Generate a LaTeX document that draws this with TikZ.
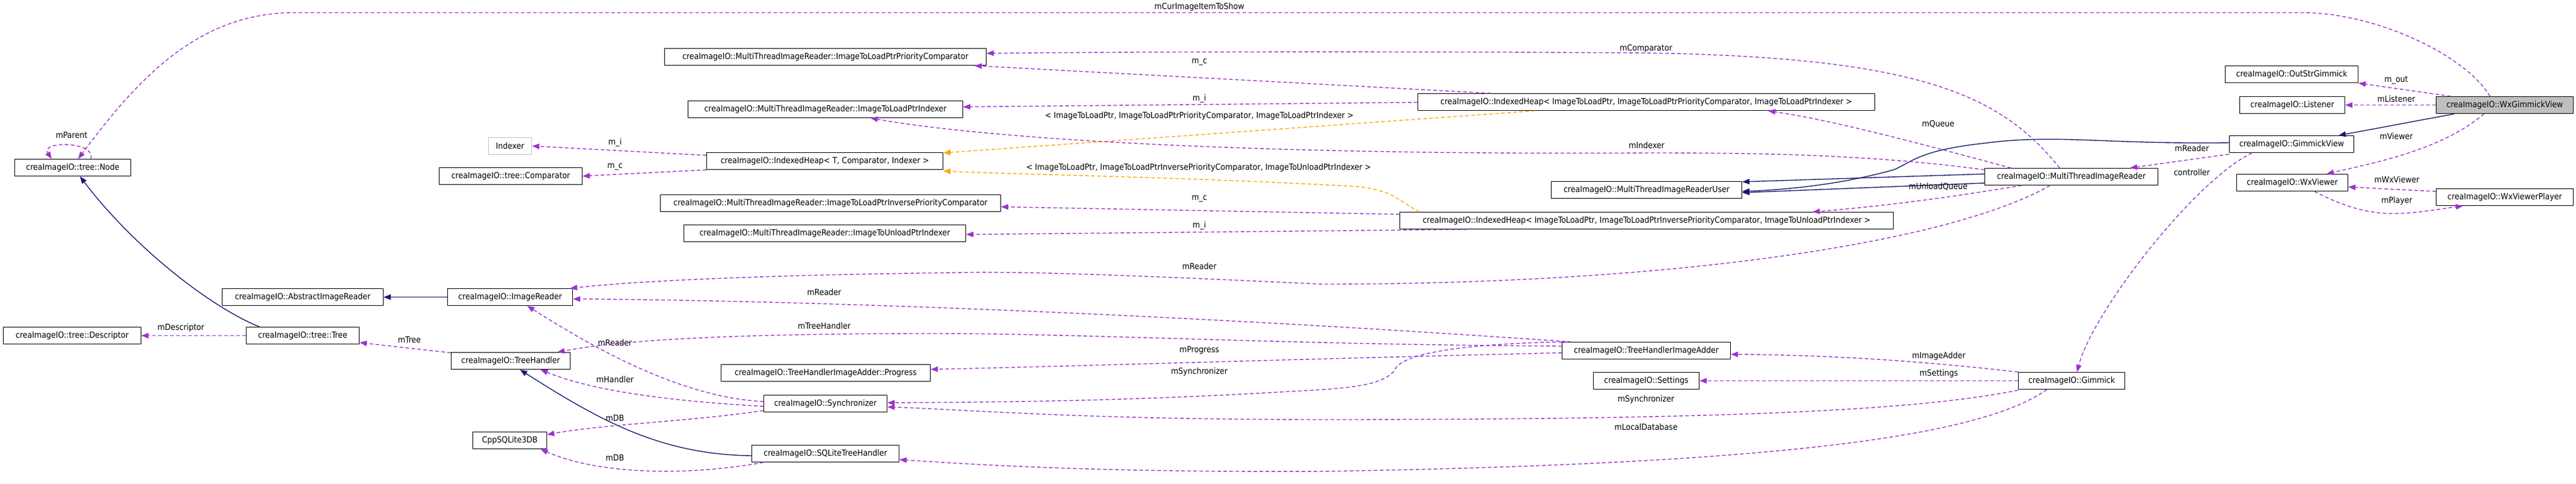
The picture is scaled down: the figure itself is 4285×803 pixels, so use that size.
\documentclass[tikz,border=0pt]{standalone}
\usepackage{fontspec}
\setmainfont{DejaVu Sans Condensed}
\usetikzlibrary{arrows.meta}

\definecolor{usecol}{HTML}{9A32CD}
\definecolor{inhcol}{HTML}{191970}
\definecolor{tplcol}{HTML}{FFA500}
\definecolor{boxgray}{HTML}{BFBFBF}

\tikzset{
  cls/.style={draw, line width=1.1pt, anchor=north west, minimum height=28pt, inner sep=0pt, font=\fontsize{14}{16}\selectfont},
  clsgray/.style={cls, draw=boxgray},
  clshere/.style={cls, fill=boxgray},
  uses/.style={draw=usecol, line width=1.4pt, dash pattern=on 6pt off 4pt, -{Triangle[length=12pt,width=9pt]}},
  tpl/.style={uses, draw=tplcol},
  inh/.style={draw=inhcol, line width=1.4pt, -{Triangle[length=12pt,width=9pt]}},
  lbl/.style={inner sep=0pt, font=\fontsize{14}{16}\selectfont}
}

\begin{document}
\begin{tikzpicture}[x=1pt, y=-1pt, line join=round]
  \useasboundingbox (0,0) rectangle (4285,803);

  % ===== Classes =====
  \node[cls, minimum width=193pt] (node) at (24,264) {creaImageIO::tree::Node};
  \node[clsgray, minimum width=72pt] (indexer) at (812,228) {Indexer};
  \node[cls, minimum width=238pt] (tcmp) at (730,278) {creaImageIO::tree::Comparator};
  \node[cls, minimum width=268pt] (absrd) at (369,479) {creaImageIO::AbstractImageReader};
  \node[cls, minimum width=208pt] (imgrd) at (744,479) {creaImageIO::ImageReader};
  \node[cls, minimum width=229pt] (desc) at (5,543) {creaImageIO::tree::Descriptor};
  \node[cls, minimum width=188pt] (tree) at (409,543) {creaImageIO::tree::Tree};
  \node[cls, minimum width=198pt] (thdl) at (750,585) {creaImageIO::TreeHandler};
  \node[cls, minimum width=123pt] (sqldb) at (786,717) {CppSQLite3DB};
  \node[cls, minimum width=535pt] (pcmp) at (1105,80) {creaImageIO::MultiThreadImageReader::ImageToLoadPtrPriorityComparator};
  \node[cls, minimum width=457pt] (ldidx) at (1144,167) {creaImageIO::MultiThreadImageReader::ImageToLoadPtrIndexer};
  \node[cls, minimum width=393pt] (iheap) at (1175,253) {creaImageIO::IndexedHeap< T, Comparator, Indexer >};
  \node[cls, minimum width=566pt] (ipcmp) at (1098,323) {creaImageIO::MultiThreadImageReader::ImageToLoadPtrInversePriorityComparator};
  \node[cls, minimum width=469pt] (ulidx) at (1137,373) {creaImageIO::MultiThreadImageReader::ImageToUnloadPtrIndexer};
  \node[cls, minimum width=348pt] (prog) at (1199,605) {creaImageIO::TreeHandlerImageAdder::Progress};
  \node[cls, minimum width=205pt] (sync) at (1270,656) {creaImageIO::Synchronizer};
  \node[cls, minimum width=245pt] (sqlth) at (1250,739) {creaImageIO::SQLiteTreeHandler};
  \node[cls, minimum width=760pt] (lheap) at (2358,155) {creaImageIO::IndexedHeap< ImageToLoadPtr, ImageToLoadPtrPriorityComparator, ImageToLoadPtrIndexer >};
  \node[cls, minimum width=317pt] (mtuser) at (2580,301) {creaImageIO::MultiThreadImageReaderUser};
  \node[cls, minimum width=821pt] (uheap) at (2328,352) {creaImageIO::IndexedHeap< ImageToLoadPtr, ImageToLoadPtrInversePriorityComparator, ImageToUnloadPtrIndexer >};
  \node[cls, minimum width=280pt] (adder) at (2598,568) {creaImageIO::TreeHandlerImageAdder};
  \node[cls, minimum width=176pt] (settings) at (2650,618) {creaImageIO::Settings};
  \node[cls, minimum width=177pt] (gimmick) at (3357,618) {creaImageIO::Gimmick};
  \node[cls, minimum width=288pt] (mtir) at (3301,279) {creaImageIO::MultiThreadImageReader};
  \node[cls, minimum width=221pt] (outstr) at (3701,109) {creaImageIO::OutStrGimmick};
  \node[cls, minimum width=175pt] (listener) at (3725,160) {creaImageIO::Listener};
  \node[clshere, minimum width=228pt] (wgv) at (4052,160) {creaImageIO::WxGimmickView};
  \node[cls, minimum width=207pt] (gview) at (3708,225) {creaImageIO::GimmickView};
  \node[cls, minimum width=185pt] (wxv) at (3720,289) {creaImageIO::WxViewer};
  \node[cls, minimum width=228pt] (wxvp) at (4052,313) {creaImageIO::WxViewerPlayer};

  % ===== Inheritance =====
  \draw[inh] (imgrd.west) -- (absrd.east);
  \draw[inh] ([xshift=23]tree.north west) .. controls (360,515) and (230,420) .. ([xshift=109]node.south west);
  \draw[inh] ([yshift=-18]sqlth.north west) .. controls (1100,755) and (1000,700) .. ([xshift=115]thdl.south west);
  \draw[inh] ([yshift=-10]mtir.north west) -- ([yshift=-1]mtuser.north east);
  \draw[inh] ([yshift=-25]mtir.north west) -- ([yshift=-19]mtuser.north east);
  \draw[inh] ([yshift=-12]gview.north west) .. controls (3500,240) and (3420,222) .. (3300,238)
    .. controls (3190,250) and (3180,270) .. (3150,282) .. controls (3050,310) and (2950,316) .. ([yshift=-17]mtuser.north east);
  \draw[inh] ([xshift=31]wgv.south west) -- ([xshift=182]gview.north west);

  % ===== Template instances =====
  \draw[tpl] ([xshift=195]lheap.south west) -- ([yshift=-1]iheap.north east);
  \draw[tpl] ([xshift=33]uheap.north west) .. controls (2320,330) and (2320,318) .. (2260,310)
    .. controls (2000,295) and (1700,290) .. ([yshift=-2]iheap.south east);
  \node[lbl] (tplload) at (1995,193) {< ImageToLoadPtr, ImageToLoadPtrPriorityComparator, ImageToLoadPtrIndexer >};
  \node[lbl] (tplunload) at (1994,279) {< ImageToLoadPtr, ImageToLoadPtrInversePriorityComparator, ImageToUnloadPtrIndexer >};

  % ===== Members =====
  \draw[uses] ([xshift=90]wgv.north west) .. controls (4100,90) and (3950,21) .. (3830,21) -- (490,21)
    .. controls (330,21) and (230,130) .. ([xshift=106]node.north west);
  \node[lbl] (lcur) at (1995,12) {mCurImageItemToShow};
  \draw[uses] ([xshift=127]node.north west) .. controls (160,234) and (66,234) .. ([xshift=62]node.north west);
  \node[lbl] (lparent) at (119,224) {mParent};

  \draw[uses] ([yshift=-5]iheap.north west) -- (indexer.east);
  \node[lbl] (lhi) at (1023,237) {m\_i};
  \draw[uses] (iheap.south west) -- (tcmp.east);
  \node[lbl] (lhc) at (1023,277) {m\_c};

  \draw[uses] ([xshift=122]lheap.north west) -- ([xshift=-20]pcmp.south east);
  \node[lbl] (llc) at (1995,103) {m\_c};
  \draw[uses] ([yshift=-15]lheap.north west) -- ([yshift=4]ldidx.east);
  \node[lbl] (lli) at (1995,164) {m\_i};
  \draw[uses] ([yshift=-4]uheap.north west) -- ([yshift=-6]ipcmp.east);
  \node[lbl] (luc) at (1995,330) {m\_c};
  \draw[uses] ([xshift=112]uheap.south west) -- ([yshift=-2]ulidx.east);
  \node[lbl] (lui) at (1995,375) {m\_i};

  \draw[uses] ([xshift=125]mtir.north west) .. controls (3330,160) and (3200,95) .. (2738,88)
    .. controls (2300,85) and (1900,86) .. ([yshift=6]pcmp.east);
  \node[lbl] (lcmp) at (2738,81) {mComparator};
  \draw[uses] ([xshift=44]mtir.north west) .. controls (3200,240) and (3050,200) .. ([xshift=-178]lheap.south east);
  \node[lbl] (lqueue) at (3224,206) {mQueue};
  \draw[uses] ([yshift=-3]mtir.north west) .. controls (3100,255) and (2900,254) .. (2739,254)
    .. controls (2100,258) and (1650,232) .. ([xshift=-154]ldidx.south east);
  \node[lbl] (lidx) at (2739,241) {mIndexer};
  \draw[uses] ([xshift=62]mtir.south west) .. controls (3200,335) and (3100,345) .. ([xshift=-135]uheap.north east);
  \node[lbl] (lunload) at (3224,310) {mUnloadQueue};
  \draw[uses] ([xshift=109]mtir.south west) .. controls (3250,400) and (2800,472) .. (2200,472)
    .. controls (1900,458) and (1700,450) .. (1590,453) .. controls (1400,455) and (1100,462) .. ([xshift=-5]imgrd.north east);
  \node[lbl] (lmtrd) at (1995,442) {mReader};

  \draw[uses] ([xshift=25]wgv.north west) -- (outstr.south east);
  \node[lbl] (lout) at (3986,133) {m\_out};
  \draw[uses] (wgv.west) -- (listener.east);
  \node[lbl] (llis) at (3986,164) {mListener};
  \draw[uses] ([xshift=80]wgv.south west) .. controls (4060,250) and (3950,270) .. ([xshift=150]wxv.north west);
  \node[lbl] (lview) at (3986,226) {mViewer};
  \draw[uses] ([yshift=-2]gview.south west) -- ([xshift=-47]mtir.north east);
  \node[lbl] (lgvrd) at (3646,246) {mReader};
  \draw[uses] ([xshift=38]gview.south west) .. controls (3650,300) and (3480,520) .. ([xshift=98]gimmick.north west);
  \node[lbl] (lctrl) at (3646,286) {controller};
  \draw[uses] ([yshift=-5]wxvp.north west) -- ([yshift=-7]wxv.east);
  \node[lbl] (lwxv) at (3987,298) {mWxViewer};
  \draw[uses] ([xshift=130]wxv.south west) .. controls (3950,370) and (4000,355) .. ([xshift=45]wxvp.south west);
  \node[lbl] (lplay) at (3987,334) {mPlayer};

  \draw[uses] (tree.west) -- (desc.east);
  \node[lbl] (ldesc) at (301,545) {mDescriptor};
  \draw[uses] ([yshift=-1]thdl.north west) -- ([yshift=3]tree.south east);
  \node[lbl] (ltree) at (681,564) {mTree};

  \draw[uses] ([yshift=-11]sync.north west) .. controls (1120,660) and (960,560) .. ([xshift=133]imgrd.south west);
  \node[lbl] (lsyrd) at (1023,569) {mReader};
  \draw[uses] ([yshift=-19]sync.north west) .. controls (1150,668) and (1000,655) .. ([xshift=-50]thdl.south east);
  \node[lbl] (lhdl) at (1023,630) {mHandler};
  \draw[uses] ([yshift=-26]sync.north west) .. controls (1150,700) and (1000,705) .. ([yshift=-5]sqldb.north east);
  \node[lbl] (lsydb) at (1023,694) {mDB};
  \draw[uses] ([xshift=20]sqlth.south west) .. controls (1150,790) and (1000,790) .. ([xshift=-11]sqldb.south east);
  \node[lbl] (lthdb) at (1023,760) {mDB};

  \draw[uses] ([xshift=16]adder.north west) .. controls (2000,525) and (1400,500) .. ([yshift=-3]imgrd.east);
  \node[lbl] (ladrd) at (1371,485) {mReader};
  \draw[uses] ([yshift=-7]adder.north west) .. controls (2100,572) and (1800,553) .. (1521,554)
    .. controls (1250,555) and (1050,562) .. ([xshift=-22]thdl.north east);
  \node[lbl] (lth) at (1371,541) {mTreeHandler};
  \draw[uses] ([yshift=-18]adder.north west) .. controls (2100,598) and (1800,608) .. ([yshift=6]prog.east);
  \node[lbl] (lprog) at (1995,582) {mProgress};
  \draw[uses] ([xshift=10]adder.north west) .. controls (2450,570) and (2330,585) .. (2320,615)
    .. controls (2300,640) and (2250,645) .. (2150,650) .. controls (1900,665) and (1700,668) .. ([yshift=-13]sync.north east);
  \node[lbl] (ladsy) at (1995,618) {mSynchronizer};

  \draw[uses] (gimmick.north west) .. controls (3200,600) and (3050,590) .. ([yshift=-6]adder.east);
  \node[lbl] (ladd) at (3225,592) {mImageAdder};
  \draw[uses] (gimmick.west) -- (settings.east);
  \node[lbl] (lset) at (3225,621) {mSettings};
  \draw[uses] ([yshift=-1]gimmick.south west) .. controls (3200,680) and (2900,697) .. (2200,697)
    .. controls (1800,697) and (1600,680) .. ([yshift=-20]sync.north east);
  \node[lbl] (lgisy) at (2738,664) {mSynchronizer};
  \draw[uses] ([xshift=48]gimmick.south west) .. controls (3300,720) and (3000,770) .. (2200,783)
    .. controls (1800,785) and (1600,770) .. ([yshift=-10]sqlth.east);
  \node[lbl] (ldb) at (2738,709) {mLocalDatabase};

\end{tikzpicture}
\end{document}
